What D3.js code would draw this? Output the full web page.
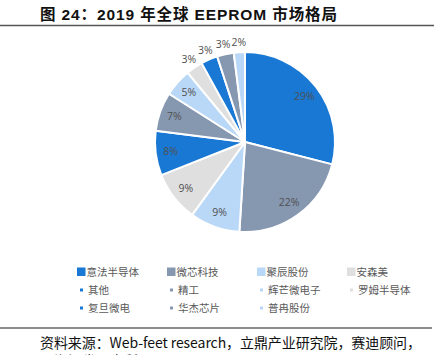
<!DOCTYPE html>
<html><head><meta charset="utf-8">
<script src="https://cdn.jsdelivr.net/npm/d3@7/dist/d3.min.js"></script>
<style>body{margin:0;background:#fff;}svg{display:block;}</style>
</head><body>
<script>
const categories = ["意法半导体","微芯科技","聚辰股份","安森美","其他","精工","辉芒微电子","罗姆半导体","复旦微电","华杰芯片","普冉股份"];
const shares = [29,22,9,9,8,7,5,3,3,3,2];
const palette = ["#1878d4","#8697b0","#b9d7f6","#dfdfdf"];
const titleText = "图 24：2019 年全球 EEPROM 市场格局";
const sourceText = "资料来源：Web-feet research，立鼎产业研究院，赛迪顾问，";
const sourceText2 = "国海证券研究所";

const W = 438, H = 355;
const svg = d3.select("body").append("svg").attr("width", W).attr("height", H);

// title
svg.append("text").attr("x", 40).attr("y", 19.5)
  .attr("font-family", "'Liberation Sans','Noto Sans CJK SC',sans-serif")
  .attr("font-weight", "bold").attr("font-size", 15.5).attr("fill", "#111")
  .attr("textLength", 297).attr("lengthAdjust", "spacing")
  .text(titleText);
svg.append("line").attr("x1", 0).attr("x2", 434).attr("y1", 25.5).attr("y2", 25.5)
  .attr("stroke", "#555").attr("stroke-width", 1.5);

// pie
const cx = 245, cy = 142, R = 90;
const color = d3.scaleOrdinal().domain(categories).range(palette);
const pie = d3.pie().sort(null).value(d => d.v);
const data = categories.map((c, i) => ({c, v: shares[i]}));
const arcs = pie(data);
const arc = d3.arc().innerRadius(0).outerRadius(R);
const g = svg.append("g").attr("transform", `translate(${cx},${cy})`);
g.selectAll("path").data(arcs).join("path")
  .attr("d", arc).attr("fill", d => color(d.data.c))
  .attr("stroke", "#fff").attr("stroke-width", 2).attr("stroke-linejoin", "round");

const inArc = d3.arc().innerRadius(75).outerRadius(75);
const outArc = d3.arc().innerRadius(100).outerRadius(100);
g.selectAll("text.lbl").data(arcs).join("text").attr("class", "lbl")
  .attr("transform", d => `translate(${(d.data.v >= 5 ? inArc : outArc).centroid(d)})`)
  .attr("text-anchor", "middle").attr("dy", "0.35em")
  .attr("font-family", "'Open Sans','Noto Sans',sans-serif").attr("font-size", 10.5)
  .attr("fill", "#505050")
  .text(d => d.data.v + "%");

// legend
const colX = [77, 167, 257, 347];
const rowY = [272, 290, 308];
const leg = svg.append("g").attr("font-family", "'Noto Sans CJK SC',sans-serif")
  .attr("font-size", 10.5).attr("fill", "#595959");
categories.forEach((c, i) => {
  const row = Math.floor(i / 4), col = i % 4;
  const x = colX[col], y = rowY[row];
  if (row === 0) {
    leg.append("rect").attr("x", x).attr("y", y - 4.5).attr("width", 8.5).attr("height", 8.5).attr("fill", color(c));
    leg.append("text").attr("x", x + 9.5).attr("y", y).attr("dy", "0.35em").text(c);
  } else {
    leg.append("rect").attr("x", x + 3).attr("y", y - 1.5).attr("width", 3).attr("height", 3).attr("fill", color(c));
    leg.append("text").attr("x", x + 11).attr("y", y).attr("dy", "0.35em").text(c);
  }
});

// bottom line and source
svg.append("line").attr("x1", 0).attr("x2", 432).attr("y1", 328).attr("y2", 328)
  .attr("stroke", "#666").attr("stroke-width", 1.5);
svg.append("text").attr("x", 40).attr("y", 347.5)
  .attr("font-family", "'Noto Sans CJK SC','Liberation Sans',sans-serif")
  .attr("font-size", 14).attr("fill", "#111")
  .attr("textLength", 381).attr("lengthAdjust", "spacing").text(sourceText);
svg.append("text").attr("x", 40).attr("y", 366)
  .attr("font-family", "'Noto Sans CJK SC',sans-serif")
  .attr("font-size", 14).attr("fill", "#111").text(sourceText2);
</script>
</body></html>
